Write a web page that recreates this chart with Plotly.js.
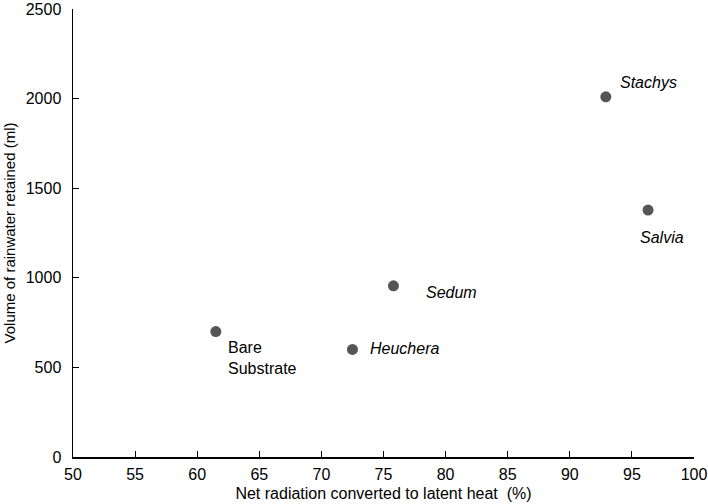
<!DOCTYPE html>
<html>
<head>
<meta charset="utf-8">
<script src="https://cdn.plot.ly/plotly-3.0.1.min.js"></script>
<style>
  body { margin: 0; padding: 0; background: #fff; }
  #chart { width: 708px; height: 504px; }
</style>
</head>
<body>
<div id="chart"></div>
<script>
// values
const species = ['Bare Substrate', 'Heuchera', 'Sedum', 'Stachys', 'Salvia'];
const latentHeat = [61.5, 72.5, 75.8, 92.9, 96.3];
const rainRetained = [700, 600, 955, 2010, 1378];
const xTicks = [50, 55, 60, 65, 70, 75, 80, 85, 90, 95, 100];
const yTicks = [0, 500, 1000, 1500, 2000, 2500];

// where each label sits relative to its point (pixels)
const labelPos = {
  'Bare Substrate': {ax: 10, ay: 5, xanchor: 'left', yanchor: 'top', italic: false, text: 'Bare<br>Substrate'},
  'Heuchera': {ax: 16, ay: -1, xanchor: 'left', yanchor: 'middle', italic: true},
  'Sedum': {ax: 31, ay: 7, xanchor: 'left', yanchor: 'middle', italic: true},
  'Stachys': {ax: 12, ay: -14, xanchor: 'left', yanchor: 'middle', italic: true},
  'Salvia': {ax: 14, ay: 27, xanchor: 'center', yanchor: 'middle', italic: true}
};

var trace = {
  type: 'scatter',
  mode: 'markers',
  x: latentHeat,
  y: rainRetained,
  marker: {color: '#555555', size: 11},
  hoverinfo: 'x+y'
};

var annotations = species.map(function (s, i) {
  var p = labelPos[s];
  var t = p.text || s;
  return {
    x: latentHeat[i],
    y: rainRetained[i],
    xref: 'x', yref: 'y',
    text: p.italic ? '<i>' + t + '</i>' : t,
    showarrow: true,
    arrowcolor: 'rgba(0,0,0,0)',
    ax: p.ax, ay: p.ay,
    xanchor: p.xanchor,
    yanchor: p.yanchor,
    align: 'left',
    font: {size: 16, color: '#000'}
  };
});

var layout = {
  width: 708,
  height: 504,
  margin: {l: 73, r: 14, t: 9, b: 47},
  paper_bgcolor: '#fff',
  plot_bgcolor: '#fff',
  showlegend: false,
  font: {family: 'Liberation Sans, Arial, sans-serif', color: '#000', size: 16},
  xaxis: {
    range: [50, 100],
    tickvals: xTicks,
    ticks: 'inside',
    ticklen: 6,
    tickcolor: '#000',
    showgrid: false,
    zeroline: false,
    showline: true,
    linecolor: '#000',
    linewidth: 1.5,
    tickfont: {size: 16},
    ticklabelstandoff: 2,
    title: {text: 'Net radiation converted to latent heat  (%)', font: {size: 16}, standoff: 6}
  },
  yaxis: {
    range: [0, 2500],
    tickvals: yTicks,
    ticks: 'inside',
    ticklen: 6,
    tickcolor: '#000',
    showgrid: false,
    zeroline: false,
    showline: true,
    linecolor: '#000',
    linewidth: 1.5,
    tickfont: {size: 16},
    ticklabelstandoff: 7,
    title: {text: 'Volume of rainwater retained (ml)', font: {size: 15}, standoff: 6}
  },
  annotations: annotations
};

Plotly.newPlot('chart', [trace], layout, {displayModeBar: false, staticPlot: true});
</script>
</body>
</html>
